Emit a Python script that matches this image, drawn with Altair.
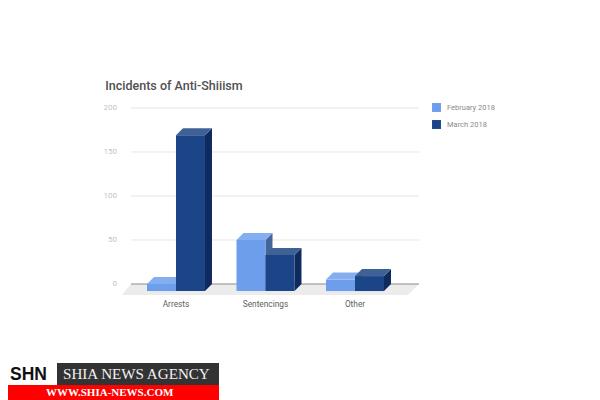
import altair as alt
import pandas as pd

categories = ["Arrests", "Sentencings", "Other"]
series_names = ["February 2018", "March 2018"]
feb_values = [8, 58, 13]
mar_values = [177, 41, 17]
y_ticks = [0, 50, 100, 150, 200]

BAR = 0.324      # bar width in category units
DX = 0.078       # 3-D depth along x, category units
DY = 8           # 3-D depth along y, value units
FLOOR = 12.5

front, top, side = [], [], []
for s, vals in zip(series_names, [feb_values, mar_values]):
    sign = -1 if s == series_names[0] else 0
    for i, (c, v) in enumerate(zip(categories, vals)):
        x0 = i + sign * BAR
        x1 = x0 + BAR
        fy = v - DY
        front.append(dict(series=s, cat=c, x=x0, x2=x1, y=-DY, y2=fy))
        for x, lo, hi in [(x0, fy, fy), (x0 + DX, fy, v), (x1, fy, v), (x1 + DX, v, v)]:
            top.append(dict(series=s, cat=c, x=x, y=lo, y2=hi))
        for x, lo, hi in [(x1, -DY, fy), (x1 + DX, 0, v)]:
            side.append(dict(series=s, cat=c, x=x, y=lo, y2=hi))
front, top, side = pd.DataFrame(front), pd.DataFrame(top), pd.DataFrame(side)

x_scale = alt.Scale(domain=[-1.877, 4.648], nice=False, zero=False)
y_scale = alt.Scale(domain=[-131.8, 313.6], nice=False, zero=False)
X = alt.X("x:Q", scale=x_scale, axis=None)
Y = alt.Y("y:Q", scale=y_scale, axis=None, stack=None)

floor = pd.DataFrame(dict(x=[-0.603, -0.503, 2.592, 2.715], y=[-FLOOR] * 3 + [0], y2=[-FLOOR, 0, 0, 0]))
floor_layer = alt.Chart(floor).mark_area(color="#ececec", orient="vertical").encode(X, Y, alt.Y2("y2:Q"))

XL, XR = -0.503, 2.715
grid = pd.DataFrame(dict(y=y_ticks, x=[XL] * 5, x2=[XR] * 5, label=[str(t) for t in y_ticks]))
grid_layer = alt.Chart(grid).mark_rule(strokeWidth=1).encode(
    X, alt.X2("x2:Q"), Y,
    color=alt.condition("datum.y == 0", alt.value("#8a8a8a"), alt.value("#e6e6e6")),
)
ylabels = alt.Chart(grid.assign(lx=-0.66)).mark_text(
    align="right", baseline="middle", font="Roboto", fontSize=8, color="#c4c4c4"
).encode(x=alt.X("lx:Q", scale=x_scale, axis=None), y=Y, text="label:N")

cat_df = pd.DataFrame(dict(x=[0, 1, 2], y=[-23.5] * 3, label=categories))
xlabels = alt.Chart(cat_df).mark_text(
    align="center", baseline="middle", font="Roboto", fontSize=8.3, color="#606060"
).encode(X, Y, text="label:N")

title = alt.Chart(pd.DataFrame(dict(x=[-0.79], y=[225], label=["Incidents of Anti-Shiiism"]))).mark_text(
    align="left", baseline="middle", font="Roboto", fontSize=12.5, color="#505050", fontWeight=500
).encode(X, Y, text="label:N")

styles = {series_names[0]: ("#44659a", "#85aef0"), series_names[1]: ("#0f2a5c", "#3f6296")}
color = alt.Color(
    "series:N",
    scale=alt.Scale(domain=series_names, range=["#6d9eeb", "#1c4587"]),
    legend=alt.Legend(
        title=None, orient="none", legendX=424, legendY=95, symbolType="square",
        symbolSize=80, symbolStrokeWidth=0, symbolOpacity=1, labelFont="Roboto",
        labelFontSize=7.5, labelColor="#8a8a8a", rowPadding=8, labelOffset=6,
    ),
)

bars = []
for s in series_names:
    side_c, top_c = styles[s]
    bars.append(alt.Chart(side[side.series == s]).mark_area(color=side_c, orient="vertical").encode(X, Y, alt.Y2("y2:Q"), detail="cat:N"))
    bars.append(alt.Chart(top[top.series == s]).mark_area(color=top_c, orient="vertical").encode(X, Y, alt.Y2("y2:Q"), detail="cat:N"))
    bars.append(alt.Chart(front[front.series == s]).mark_rect().encode(X, alt.X2("x2:Q"), Y, alt.Y2("y2:Q"), color=color))

# Agency banner, placed in page pixels
banner_dark = alt.Chart(pd.DataFrame(dict(a=[0]))).mark_rect(color="#333333").encode(
    x=alt.value(49), x2=alt.value(211), y=alt.value(355), y2=alt.value(377))
banner_red = alt.Chart(pd.DataFrame(dict(a=[0]))).mark_rect(color="#ff0000").encode(
    x=alt.value(0), x2=alt.value(211), y=alt.value(377), y2=alt.value(392))


def banner_text(label, x, y, font, size, col, weight="normal"):
    return alt.Chart(pd.DataFrame(dict(label=[label]))).mark_text(
        align="left", baseline="middle", font=font, fontSize=size, color=col, fontWeight=weight
    ).encode(x=alt.value(x), y=alt.value(y), text="label:N")


chart = alt.layer(
    floor_layer, grid_layer, ylabels, xlabels, title, *bars,
    banner_dark, banner_red,
    banner_text("SHN", 2, 367, "Liberation Sans", 17.5, "#111111", "bold"),
    banner_text("SHIA NEWS AGENCY", 55, 366, "Liberation Serif", 15.1, "#f2f2f2"),
    banner_text("WWW.SHIA-NEWS.COM", 38, 385, "Liberation Serif", 11, "#ffffff", "bold"),
).properties(
    width=584, height=392, padding=0,
    autosize=alt.AutoSizeParams(type="none"),
    background="white",
).configure_view(stroke=None)

chart.save("out.html", embed_options={"renderer": "svg", "actions": False})
